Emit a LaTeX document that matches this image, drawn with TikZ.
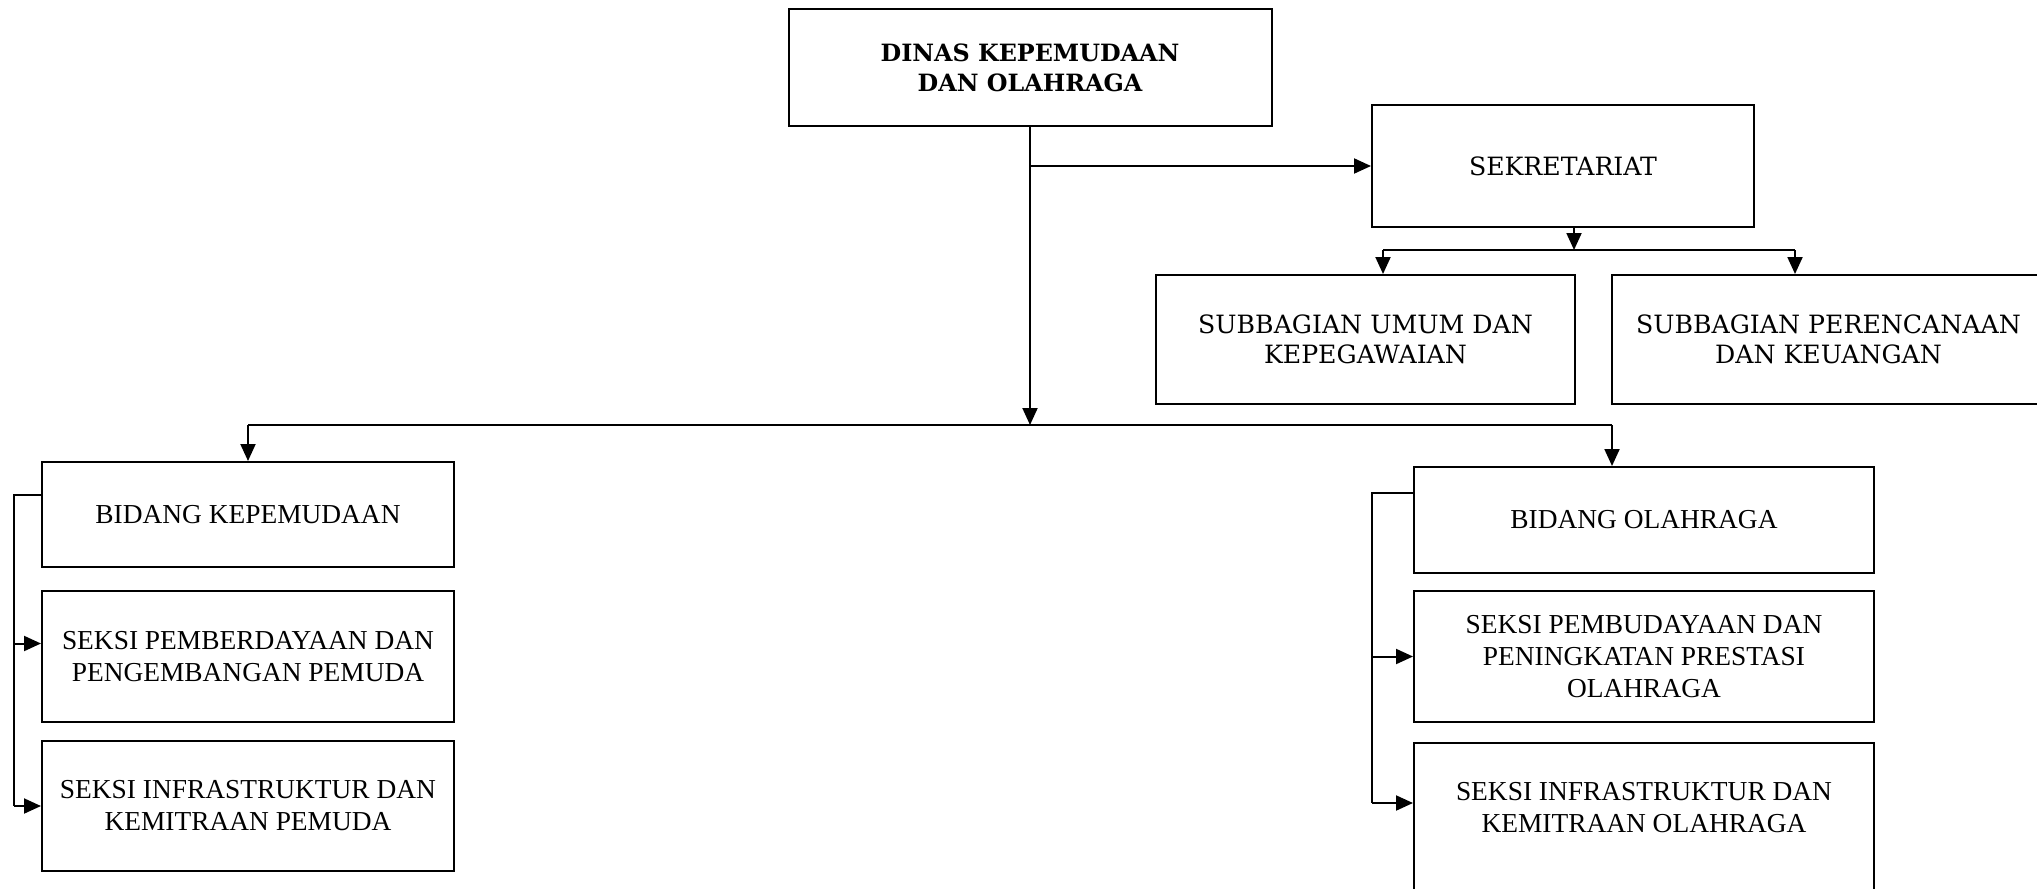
\documentclass[tikz,border=0pt]{standalone}
\usepackage{fontspec}
\setmainfont{Liberation Serif}
\newfontfamily\bookfont{DejaVu Serif}
\usepackage{tikz}
\usetikzlibrary{arrows.meta,positioning,calc}

\begin{document}
\begin{tikzpicture}[
  x={(0.5pt,0pt)},y={(0pt,-0.5pt)},
  box/.style={draw,line width=1pt,inner sep=4pt,align=center,
              font=\fontsize{13.7}{16}\selectfont},
  head/.style={box,font=\bookfont\fontsize{12.6}{15}\selectfont},
  boss/.style={box,font=\bookfont\bfseries\fontsize{11.9}{15}\selectfont},
  arr/.style={-{Triangle[length=8.5pt,width=7.5pt]},line width=1pt},
  link/.style={line width=1pt}
]
\useasboundingbox (0,0) rectangle (2037,888);
\node[boss,minimum width=241.5pt,minimum height=58.5pt] (dinas) at (1030,67.5)
  {DINAS KEPEMUDAAN\\DAN OLAHRAGA};
\node[head,minimum width=191pt,minimum height=61pt] (sekre) at (1563,166) {SEKRETARIAT};
\node[head,minimum width=209.5pt,minimum height=64.5pt] (umum) at (1365.5,339.5)
  {SUBBAGIAN UMUM DAN\\KEPEGAWAIAN};
\node[head,minimum width=216.5pt,minimum height=64.5pt] (renc) at (1828.5,339.5)
  {SUBBAGIAN PERENCANAAN\\DAN KEUANGAN};

\node[box,minimum width=206pt,minimum height=52.5pt] (bk) at (248,514.5) {BIDANG KEPEMUDAAN};
\node[box,minimum width=206pt,minimum height=65.5pt] (sk1) at (248,656.5)
  {SEKSI PEMBERDAYAAN DAN\\PENGEMBANGAN PEMUDA};
\node[box,minimum width=206pt,minimum height=65pt] (sk2) at (248,806)
  {SEKSI INFRASTRUKTUR DAN\\KEMITRAAN PEMUDA};

\node[box,minimum width=230pt,minimum height=53pt] (bo) at (1644,520) {BIDANG OLAHRAGA};
\node[box,minimum width=230pt,minimum height=65.5pt] (so1) at (1644,656.5)
  {SEKSI PEMBUDAYAAN DAN\\PENINGKATAN PRESTASI\\OLAHRAGA};
\node[box,minimum width=230pt,minimum height=105pt,anchor=north] (so2) at (1644,742) {};
\node[align=center,font=\fontsize{13.7}{16}\selectfont] (so2t) at (1644,808)
  {SEKSI INFRASTRUKTUR DAN\\KEMITRAAN OLAHRAGA};

\coordinate (hub) at (1030,425);
\draw[arr] (dinas.south) -- (hub);
\draw[arr] (dinas.south |- sekre.west) -- (sekre.west);

\coordinate (st) at ($(sekre.south)+(11,0)$);
\coordinate (su) at (1383,250);
\coordinate (sr) at (1795,250);
\draw[arr] (st) -- (st |- su);
\draw[link] (su) -- (sr);
\draw[arr] (su) -- (su |- umum.north);
\draw[arr] (sr) -- (sr |- renc.north);

\coordinate (hl) at (bk.north |- hub);
\coordinate (hr) at (1612,425);
\draw[link] (hl) -- (hr);
\draw[arr] (hl) -- (bk.north);
\draw[arr] (hr) -- (hr |- bo.north);

\coordinate (bkw) at ($(bk.west)+(0,-20)$);
\coordinate (lx) at (14,0);
\coordinate (a1) at ($(sk1.west)+(0,-13)$);
\draw[link] (bkw) -| (lx |- sk2.west);
\draw[arr] (lx |- a1) -- (a1);
\draw[arr] (lx |- sk2.west) -- (sk2.west);

\coordinate (bow) at ($(bo.west)+(0,-27)$);
\coordinate (rx) at (1372,0);
\coordinate (b2) at ($(so2.north west)+(0,61)$);
\draw[link] (bow) -| (rx |- b2);
\draw[arr] (rx |- so1.west) -- (so1.west);
\draw[arr] (rx |- b2) -- (b2);
\end{tikzpicture}
\end{document}
